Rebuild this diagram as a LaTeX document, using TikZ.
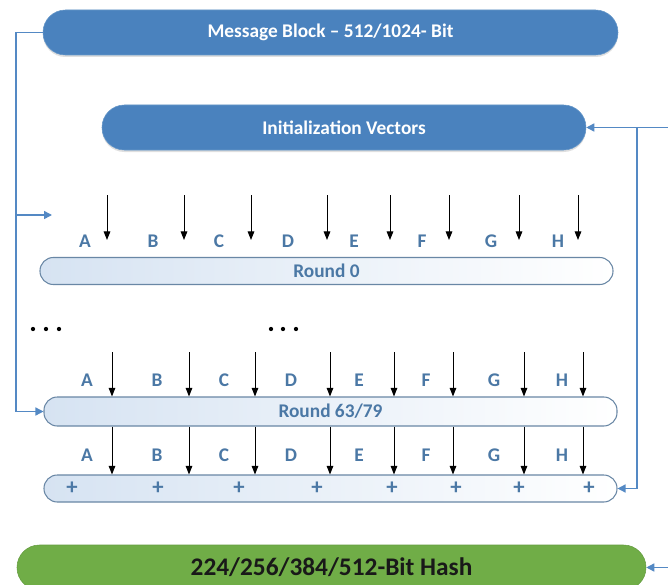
\documentclass[tikz,border=0pt]{standalone}
\usepackage{fontspec}
\setmainfont{Carlito}
\usetikzlibrary{arrows.meta,shadows}
\definecolor{boxblue}{RGB}{74,130,190}
\definecolor{boxedge}{RGB}{100,150,200}
\definecolor{conn}{RGB}{84,137,196}
\definecolor{rndedge}{RGB}{105,135,165}
\definecolor{rndfill}{RGB}{214,227,242}
\definecolor{lettr}{RGB}{75,120,165}
\definecolor{hashgreen}{RGB}{112,173,71}
\begin{document}
\begin{tikzpicture}[x=0.75pt,y=-0.75pt,
  bluebox/.style={draw=boxedge,fill=boxblue,text=white,font=\bfseries\fontsize{14.5}{17}\selectfont,
    minimum height=33.75pt,rounded corners=16.8pt,inner sep=0pt,
    drop shadow={shadow xshift=0pt,shadow yshift=-1.5pt,opacity=0.25}},
  rndbox/.style={draw=rndedge,line width=0.8pt,left color=rndfill,right color=white,
    text=lettr,font=\bfseries\fontsize{14.5}{17}\selectfont,minimum width=429.75pt,
    rounded corners=10pt,inner sep=0pt},
  lett/.style={text=lettr,font=\bfseries\fontsize{14.5}{17}\selectfont,inner sep=0pt},
  plus/.style={text=lettr,font=\bfseries\fontsize{17}{19}\selectfont,inner sep=0pt},
  conline/.style={draw=conn,line width=1.1pt},
  conarrow/.style={conline,-{Triangle[length=6pt,width=6pt]}},
  blk/.style={draw=black,line width=0.75pt,-{Triangle[length=6.5pt,width=5pt]}},
  dot/.style={circle,fill=black,inner sep=0pt,minimum size=3.2pt}]
\useasboundingbox (0,0) rectangle (668,585);
\fill[white] (0,0) rectangle (668,585);

% main boxes
\node[bluebox,minimum width=431.25pt] (msg) at (330.5,32.5) {Message Block – 512/1024- Bit};
\node[bluebox,minimum width=363pt] (iv) at (344,127.5) {Initialization Vectors};
\node[rndbox,minimum height=20.25pt] (r0) at (326.5,271) {Round 0};
\node[rndbox,minimum height=21.75pt] (r63) at (330.5,411.5) {Round 63/79};
\node[rndbox,minimum height=20.25pt] (pl) at (330.5,488.5) {};
\node[draw=hashgreen!90!black,fill=hashgreen,text={rgb,255:red,25;green,25;blue,25},
  font=\bfseries\fontsize{19}{23}\selectfont,minimum width=471.75pt,minimum height=33.75pt,
  rounded corners=16.8pt,inner sep=0pt] (hash) at (331.5,567.5) {224/256/384/512-Bit Hash};

% left feedback line
\coordinate (lt) at (16,32.5);
\coordinate (lb) at (16,411.5);
\coordinate (lm) at (16,215);
\coordinate (lme) at (52,215);
\draw[conarrow] (msg.west) -- (lt) -- (lb) -- (r63.west);
\draw[conarrow] (lm) -- (lme);

% right feedback line
\coordinate (rin) at (668,127.5);
\coordinate (rj) at (637,127.5);
\coordinate (hin) at (668,567.5);
\draw[conarrow] (rin) -- (iv.east);
\draw[conarrow] (rj) |- (pl.east);
\draw[conarrow] (hin) -- (hash.east);

% row 0 arrows and letters
\foreach \x [count=\i] in {107,184,251,327,390,449,519,578}{
  \coordinate (a\i) at (\x,195);
  \coordinate (b\i) at (\x,240);
  \draw[blk] (a\i) -- (b\i);
}
\foreach \x/\l in {85/A,153/B,219/C,288/D,354/E,422/F,491/G,558/H}{
  \node[lett] (t0\l) at (\x,241) {\l};
}

% dots
\foreach \x [count=\i] in {33,46,59,271,283,296}{
  \node[dot] (d\i) at (\x,329) {};
}

% rows before and after Round 63/79
\foreach \x [count=\i] in {112,189,255,330,394,453,524,583}{
  \coordinate (c\i) at (\x,352);
  \draw[blk] (c\i) -- (c\i |- r63.north);
  \draw[blk] (c\i |- r63.south) -- (c\i |- pl.north);
}
\foreach \x/\l in {87/A,157/B,224/C,291/D,359/E,426/F,494/G,562/H}{
  \node[lett] (t1\l) at (\x,380) {\l};
  \node[lett] (t2\l) at (\x,455) {\l};
}

% plus signs
\foreach \x [count=\i] in {72,158,239,317,392,456,519,589}{
  \node[plus] (p\i) at (\x,488.5) {+};
}
\end{tikzpicture}
\end{document}
